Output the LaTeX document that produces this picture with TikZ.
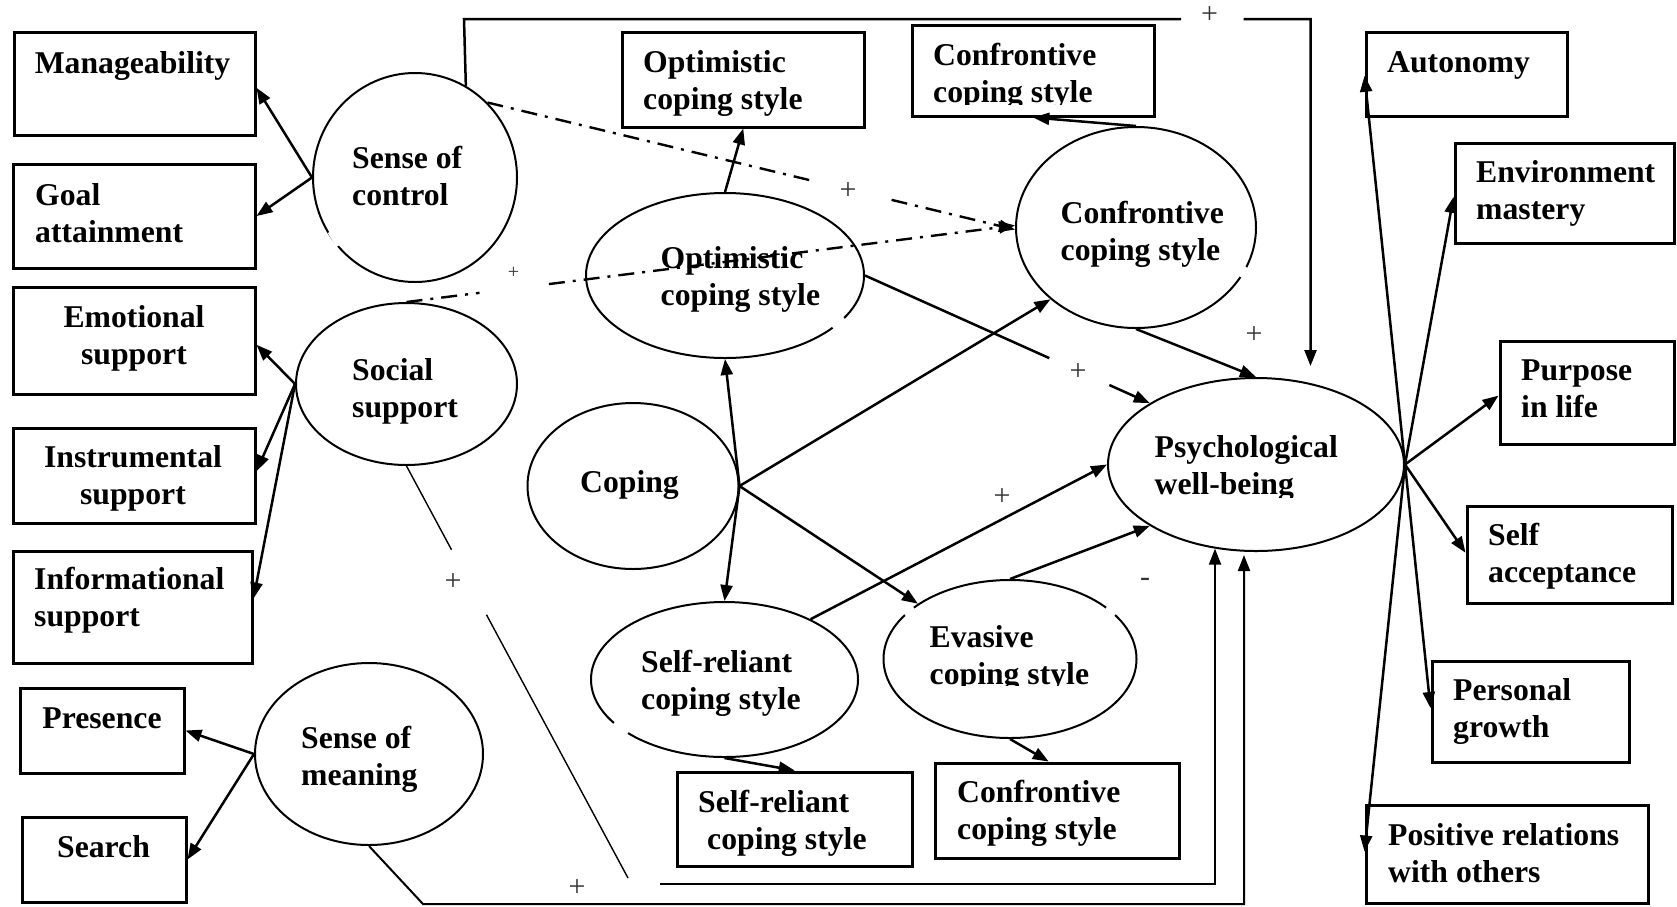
\documentclass[tikz,border=0pt]{standalone}
\usepackage{fontspec}
\setmainfont{Liberation Serif}
\usetikzlibrary{arrows.meta,shapes.geometric,calc}

% rectangle node from its corner coordinates: name, x1, y1, x2, y2
\newcommand\boxat[5]{\node[box, minimum width={#4-#2}, minimum height={#5-#3}] (#1) at ({(#2+#4)/2},{(#3+#5)/2}) {};}
% ellipse node: name, cx, cy, rx, ry
\newcommand\ovalat[5]{\node[oval, minimum width={2*(#4)}, minimum height={2*(#5)}] (#1) at (#2,#3) {};}

\begin{document}
\begin{tikzpicture}[x=1pt,y=-1pt,
  box/.style={draw, line width=3pt, rectangle, inner sep=0pt},
  oval/.style={draw, line width=2pt, ellipse, inner sep=0pt},
  outlinebreak/.style={white, line width=4pt},
  txt/.style={font=\fontsize{31.7}{37}\selectfont\bfseries, inner sep=0pt, anchor=base west, align=left},
  txtc/.style={txt, anchor=base, align=center},
  % two-line labels are placed by the baseline of their first line
  two/.style={yshift=-37pt},
  sign/.style={font=\fontsize{30}{30}\selectfont, inner sep=0pt, text=black!80},
  smallsign/.style={font=\fontsize{20}{20}\selectfont, inner sep=0pt, text=black!80},
  tip/.style={-{Triangle[length=16pt,width=12pt]}},
  arr/.style={line width=2.5pt, tip},
  link/.style={line width=2pt},
  thinlink/.style={line width=1.4pt},
  dashdot/.style={line width=2.4pt, dash pattern=on 16pt off 8pt on 3pt off 8pt, tip},
]
\fill[white] (0,0) rectangle (1677,906);
\useasboundingbox (0,0) rectangle (1677,906);

% ---------- indicator boxes ----------
\boxat{manag}{14}{32}{255}{135}
\boxat{goal}{13}{164}{255}{268}
\boxat{emot}{13}{287}{255}{394}
\boxat{instr}{13}{428}{255}{523}
\boxat{inform}{13}{551}{252}{663}
\boxat{pres}{20}{688}{184}{773}
\boxat{search}{22}{817}{186}{902}
\boxat{optbox}{622}{32}{864.5}{127}
\boxat{confbox}{912}{25}{1154.5}{116}
\boxat{srbox}{677}{772}{912.5}{866}
\boxat{confbox2}{935.7}{763}{1179}{858}
\boxat{aut}{1366}{32}{1567}{116}
\boxat{env}{1455}{143}{1674}{243}
\boxat{purp}{1500}{341}{1674}{444}
\boxat{sacc}{1467}{506}{1672}{603}
\boxat{pers}{1432}{661}{1629}{762}
\boxat{posrel}{1366}{805}{1648}{903}

% ---------- latent variables ----------
\ovalat{socctrl}{415}{177.5}{102}{104.5}
\ovalat{socsup}{406.5}{384}{110.5}{81}
\ovalat{meaning}{369}{754}{114}{91}
\ovalat{opt}{725}{275.5}{139}{82.5}
\ovalat{coping}{633}{486}{105.5}{83}
\ovalat{conf}{1136}{227.5}{120}{100.5}
\ovalat{selfrel}{724.5}{679.5}{133.5}{77.5}
\ovalat{evasive}{1010}{659}{126.5}{79}
\ovalat{pwb}{1256}{464.5}{148}{86.5}

% small breaks in some ellipse outlines
\draw[outlinebreak] (329.5,232) -- (338,246);
\draw[outlinebreak] (844,318) -- (833,328);
\draw[outlinebreak] (1246,267) -- (1240.5,277);
\draw[outlinebreak] (614,723) -- (628,733);
\draw[outlinebreak] (914,608) -- (905,615);
\draw[outlinebreak] (1106,608) -- (1115,615);

% ---------- labels ----------
\node[txt] (tManag) at (34.6,73) {Manageability};
\node[txt, two] (tGoal) at (35,205) {Goal\\attainment};
\node[txtc, two] (tEmot) at (134,327) {Emotional\\support};
\node[txtc, two] (tInstr) at (133,467) {Instrumental\\support};
\node[txt, two] (tInform) at (34,589) {Informational\\support};
\node[txtc] (tPres) at (102,728) {Presence};
\node[txtc] (tSearch) at (103.5,857) {Search};
\node[txt, two] (tOptBox) at (643,72) {Optimistic\\coping style};
\begin{scope}
  \clip (912,25) rectangle (1154.5,104);
  \node[txt, two] (tConfBox) at (933,65) {Confrontive\\coping style};
\end{scope}
\node[txt, two] (tSrBox) at (698,812) {Self-reliant\\\hspace*{9pt}coping style};
\node[txt, two] (tConfBox2) at (957,802) {Confrontive\\coping style};
\node[txt] (tAut) at (1387,72) {Autonomy};
\node[txt, two] (tEnv) at (1476,182) {Environment\\mastery};
\node[txt, two] (tPurp) at (1521,380) {Purpose\\in life};
\node[txt, two] (tSacc) at (1488,545) {Self\\acceptance};
\node[txt, two] (tPers) at (1453,700) {Personal\\growth};
\node[txt, two] (tPos) at (1388,845) {Positive relations\\with others};

\node[txt, two] (tSocctrl) at (352,168) {Sense of\\control};
\node[txt, two] (tSocsup) at (352,380) {Social\\support};
\node[txt, two] (tMeaning) at (301,748) {Sense of\\meaning};
\node[txt, two] (tOpt) at (660.5,268) {Optimistic\\coping style};
\node[txtc] (tCoping) at (629.5,492) {Coping};
\node[txt, two] (tConf) at (1060.5,223) {Confrontive\\coping style};
\node[txt, two] (tSelfrel) at (641,672) {Self-reliant\\coping style};
\begin{scope}
  \clip (880,580) rectangle (1140,685);
  \node[txt, two] (tEvasive) at (929.5,647) {Evasive\\coping style};
\end{scope}
\begin{scope}
  \clip (1108,378) rectangle (1404,497);
  \node[txt, two] (tPwb) at (1154.5,457) {Psychological\\well-being};
\end{scope}

% ---------- measurement arrows ----------
\draw[arr] (socctrl.180) -- (manag.-2);
\draw[arr] (socctrl.180) -- (goal.east);
\draw[arr] (socsup.west) -- (emot.-2);
\draw[arr] (socsup.west) -- (instr.2);
\draw[arr] (socsup.west) -- (inform.4);
\draw[arr] (meaning.west) -- (pres.east);
\draw[arr] (meaning.west) -- (search.east);
\draw[arr] (opt.north) -- (optbox.south);
\draw[arr] (conf.north) -- (confbox.south);
\draw[arr] (selfrel.south) -- (srbox.north);
\draw[arr] (evasive.south) -- (confbox2.100);

\draw[arr] (pwb.east) -- (aut.181);
\draw[arr] (pwb.east) -- (env.182);
\draw[arr] (pwb.east) -- (purp.182);
\draw[arr] (pwb.east) -- (sacc.179);
\draw[arr] (pwb.east) -- (pers.178);
\draw[arr] (pwb.east) -- (posrel.179);

% ---------- coping structure ----------
\draw[arr] (coping.east) -- (opt.south);
\draw[arr] (coping.east) -- (selfrel.north);
\draw[arr] (coping.east) -- (conf.220);
\draw[arr] (coping.east) -- (evasive.149);

% ---------- paths to well-being ----------
\draw[arr] (opt.east) -- ($(opt.east)!0.647!(pwb.150)$)
           ($(opt.east)!0.858!(pwb.150)$) -- (pwb.150);
\draw[arr] (conf.south) -- (pwb.north);
\draw[arr] (selfrel.35) -- (pwb.west);
\draw[arr] (evasive.north) -- (pwb.210);

% sense of control -> well-being, over the top
\coordinate (topL) at (464,19);
\coordinate (gapA) at (1181,19);
\coordinate (gapB) at (1243.5,19);
\coordinate (topR) at (1310.5,19);
\draw[arr, shorten >=11pt] (socctrl.61) -- (topL) -- (gapA) (gapB) -- (topR) -- (topR |- pwb.north);

% dash-dot paths into the confrontive style
\draw[dashdot] (socctrl.46) -- ($(socctrl.46)!0.615!(conf.181)$)
               ($(socctrl.46)!0.766!(conf.181)$) -- (conf.181);
\draw[dashdot] (socsup.north) -- ($(socsup.north)!0.12!(conf.179)$)
               ($(socsup.north)!0.234!(conf.179)$) -- (conf.179);

% social support -> well-being, along the bottom
\coordinate (sEnd) at (628,878);
\coordinate (hStart) at (660,884);
\coordinate (loopC) at (1215,884);
\draw[thinlink] (socsup.south) -- ($(socsup.south)!0.203!(sEnd)$)
                ($(socsup.south)!0.361!(sEnd)$) -- (sEnd);
\draw[link, tip] (hStart) -- (loopC) -- (loopC |- pwb.-116);

% sense of meaning -> well-being, along the bottom edge
\coordinate (mB) at (423,904);
\coordinate (mC) at (1244,904);
\draw[link, tip, shorten >=3pt] (meaning.south) -- (mB) -- (mC) -- (mC |- pwb.south);

% ---------- signs ----------
\node[sign] (pTop) at (1209.5,15) {+};
\node[sign] (pCtrl) at (848,191) {+};
\node[smallsign] (pSup) at (513.6,273) {+};
\node[sign] (pOpt) at (1078,372) {+};
\node[sign] (pConf) at (1254,335) {+};
\node[sign] (pSelf) at (1002,497) {+};
\node[sign] (mEva) at (1145,582) {-};
\node[sign] (pSoc) at (453,582) {+};
\node[sign] (pBot) at (577,888) {+};
\end{tikzpicture}
\end{document}
